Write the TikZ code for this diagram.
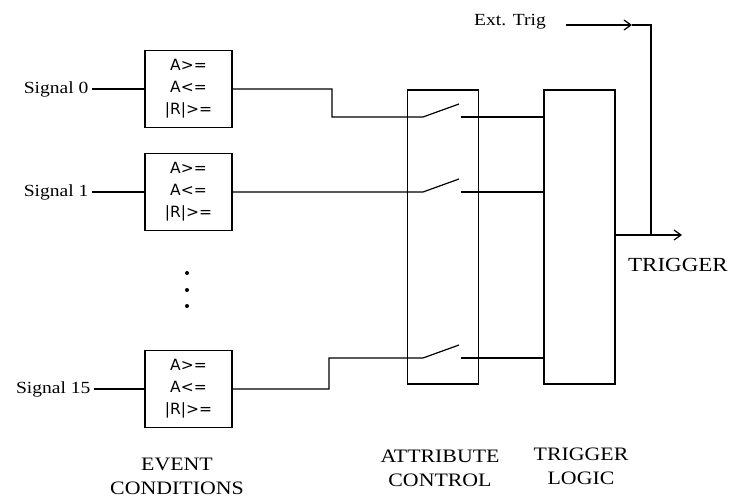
\documentclass[tikz,border=0pt]{standalone}
\usepackage{fontspec}
\setmainfont{Liberation Serif}[FakeStretch=1.15]
\newfontfamily\condfont{DejaVu Sans}
\usetikzlibrary{arrows.meta}
\begin{document}
\begin{tikzpicture}[x=1pt,y=-1pt,line cap=butt,line join=miter,>={Straight Barb[length=7pt,width=10pt]},font=\fontsize{17}{20}\selectfont]
			\tikzset{evbox/.style={draw,line width=1.8pt,minimum width=87pt,minimum height=77pt,inner sep=0pt,align=center,
					font=\condfont\fontsize{15.5}{22}\selectfont},
				bigbox/.style={draw,line width=1.8pt,minimum width=71pt,minimum height=294pt},
				wire/.style={line width=1.2pt},
				lbl/.style={align=center,font=\fontsize{19}{24}\selectfont}
			}
			\useasboundingbox (0,0) rectangle (731,497);
			\node[evbox] (ev0) at (188.5,89) {A>=\\A<=\\|R|>=};
			\node[evbox] (ev1) at (188.5,192) {A>=\\A<=\\|R|>=};
			\node[evbox] (ev15) at (188.5,389) {A>=\\A<=\\|R|>=};
			\node[bigbox] (attr) at (443,237) {};
			\node[bigbox] (trig) at (579.5,237) {};
			\node[anchor=east] (sig0) at (92,89) {Signal 0};
			\node[anchor=east] (sig1) at (92,192) {Signal 1};
			\node[anchor=east] (sig15) at (94,389) {Signal 15};
			\draw[wire] (sig0.east) -- (ev0.west) (sig1.east) -- (ev1.west) (sig15.east) -- (ev15.west);
			\foreach \y in {273,290,306} \fill (187,\y) circle (2pt);
			\coordinate (c0) at (423,117);
			\coordinate (c1) at (423,192);
			\coordinate (c15) at (423,358);
			\draw[wire] (ev0.east) -| (332,117) -- (c0) -- ++(36,-13);
			\draw[wire] (ev1.east) -- (c1) -- ++(36,-13);
			\draw[wire] (ev15.east) -| (329,358) -- (c15) -- ++(36,-13);
			\foreach \n in {0,1,15}
				\draw[wire] ([xshift=38pt]c\n) -- (c\n -| trig.west);
			\node (ext) at (510,22) {Ext. Trig};
			\coordinate (tip) at (632,25);
			\coordinate (out) at (682,235);
			\draw[wire,->] ([xshift=17pt]ext.east |- tip) -- (tip);
			\draw[wire] (tip) -| (651,235);
			\draw[wire,->] (trig.east |- out) -- (out);
			\node[font=\fontsize{20}{24}\selectfont] (trigout) at (678,265) {TRIGGER};
			\node[lbl] (evlbl) at (177,476) {EVENT\\CONDITIONS};
			\node[lbl] (attrlbl) at (440,468) {ATTRIBUTE\\CONTROL};
			\node[lbl] (triglbl) at (581,466) {TRIGGER\\LOGIC};
		\end{tikzpicture}
\end{document}
